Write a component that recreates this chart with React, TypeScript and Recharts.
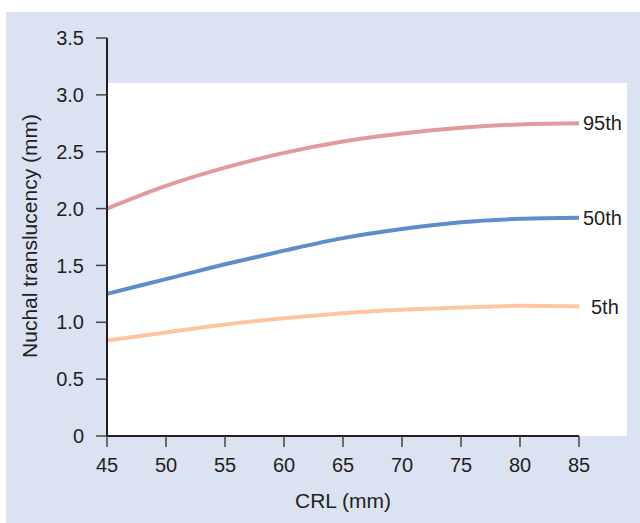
import React from 'react';
import { LineChart, Line, XAxis, YAxis } from 'recharts';

const crl = [45, 50, 55, 60, 65, 70, 75, 80, 85];
const p95 = [2.0, 2.2, 2.36, 2.49, 2.59, 2.66, 2.71, 2.74, 2.75];
const p50 = [1.25, 1.38, 1.51, 1.63, 1.74, 1.82, 1.88, 1.91, 1.92];
const p5 = [0.84, 0.91, 0.98, 1.035, 1.08, 1.11, 1.13, 1.145, 1.14];
const xTicks = [45, 50, 55, 60, 65, 70, 75, 80, 85];
const yTicks = [0, 0.5, 1.0, 1.5, 2.0, 2.5, 3.0, 3.5];
const seriesNames = ['95th', '50th', '5th'];

const data = crl.map((c, i) => ({ crl: c, p95: p95[i], p50: p50[i], p5: p5[i] }));

const FONT = '"Liberation Sans", Arial, Helvetica, sans-serif';
const TEXT = '#231f20';

const endLabel = (name: string, dx: number) => (props: any) => {
  const { x, y, index } = props;
  if (index !== data.length - 1) return null;
  return (
    <text x={x + dx} y={y} dy="0.36em" fontSize={20} fill={TEXT} fontFamily={FONT}>
      {name}
    </text>
  );
};

export default function App() {
  return (
    <div style={{ position: 'absolute', left: 0, top: 0, width: 640, height: 523, fontFamily: FONT }}>
      <div style={{ position: 'absolute', left: 6, top: 12, right: 0, bottom: 0, background: '#dbe2f1' }} />
      <div style={{ position: 'absolute', left: 107, top: 83, width: 520, height: 353, background: '#ffffff' }} />
      <div style={{ position: 'absolute', left: 0, top: 0 }}>
        <LineChart width={640} height={523} data={data} margin={{ top: 38, right: 61, bottom: 37, left: 0 }}>
          <XAxis
            dataKey="crl"
            type="number"
            domain={[45, 85]}
            ticks={xTicks}
            height={50}
            tickSize={11}
            tickMargin={11}
            axisLine={{ stroke: TEXT, strokeWidth: 2 }}
            tickLine={{ stroke: '#444', strokeWidth: 1.5 }}
            tick={{ fill: TEXT, fontSize: 20, fontFamily: FONT }}
            label={{ value: 'CRL (mm)', position: 'bottom', offset: 7, fill: TEXT, fontSize: 21, fontFamily: FONT }}
          />
          <YAxis
            type="number"
            domain={[0, 3.5]}
            ticks={yTicks}
            width={107}
            tickSize={11}
            tickMargin={12}
            tickFormatter={(v: number) => (v === 0 ? '0' : v.toFixed(1))}
            axisLine={{ stroke: TEXT, strokeWidth: 2 }}
            tickLine={{ stroke: '#444', strokeWidth: 1.5 }}
            tick={{ fill: TEXT, fontSize: 20, fontFamily: FONT }}
            label={{
              content: () => {
                const cy = 236;
                const cx = 37;
                return (
                  <text x={cx} y={cy} textAnchor="middle" fontSize={21} fill={TEXT} fontFamily={FONT} transform={`rotate(-90 ${cx} ${cy})`}>
                    Nuchal translucency (mm)
                  </text>
                );
              },
            }}
          />
          <Line dataKey="p95" type="monotone" stroke="#e09c9b" strokeWidth={4} dot={false} isAnimationActive={false} label={endLabel(seriesNames[0], 4)} />
          <Line dataKey="p50" type="monotone" stroke="#5e8dcb" strokeWidth={4} dot={false} isAnimationActive={false} label={endLabel(seriesNames[1], 4)} />
          <Line dataKey="p5" type="monotone" stroke="#fdc6a0" strokeWidth={4} dot={false} isAnimationActive={false} label={endLabel(seriesNames[2], 12)} />
        </LineChart>
      </div>
    </div>
  );
}
